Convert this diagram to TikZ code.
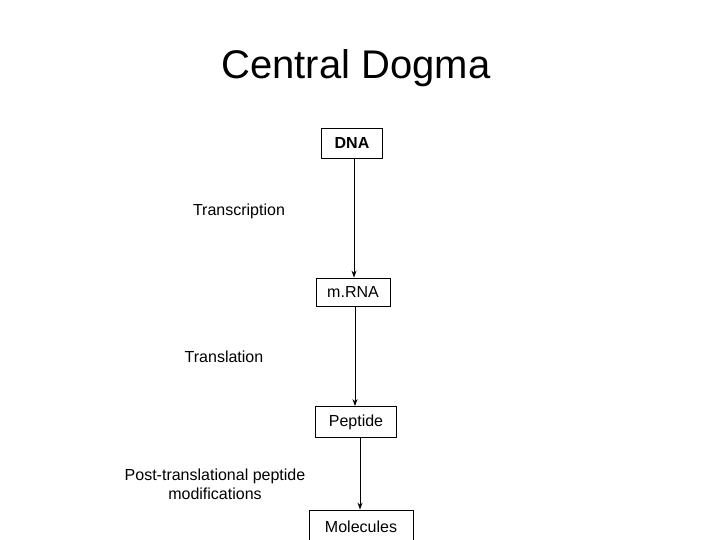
\documentclass[tikz,border=0pt]{standalone}
\usepackage{fontspec}
\setmainfont{Liberation Sans}
\usetikzlibrary{arrows.meta}
\begin{document}
\begin{tikzpicture}[x=1pt,y=-1pt,
  box/.style={draw,thick,inner sep=0pt,minimum height=30pt,font=\fontsize{16}{18}\selectfont},
  lab/.style={font=\fontsize{16}{19}\selectfont,align=center},
  arr/.style={thick,-{Stealth[length=7pt,width=5pt]}}]
\useasboundingbox (0,0) rectangle (720,540);
\node[font=\fontsize{40}{44}\selectfont] (title) at (356,68) {Central Dogma};
\node[box,minimum width=61pt,font=\fontsize{16}{18}\bfseries] (dna) at (352,143) {DNA};
\node[box,minimum width=74pt,minimum height=28pt] (mrna) at (353,292) {m.RNA};
\node[box,minimum width=81pt,minimum height=31pt] (pep) at (356,422) {Peptide};
\node[box,minimum width=104pt,minimum height=34pt] (mol) at (361,527) {Molecules};
\node[lab] (t1) at (239,211) {Transcription};
\node[lab] (t2) at (224,357) {Translation};
\node[lab] (t3) at (215,484) {Post-translational peptide\\modifications};
\draw[arr] (dna.south) ++(2,0) coordinate (a1) -- (mrna.north -| a1);
\draw[arr] (mrna.south) ++(2,0) coordinate (a2) -- (pep.north -| a2);
\draw[arr] (pep.south) ++(4,0) coordinate (a3) -- (mol.north -| a3);
\end{tikzpicture}
\end{document}
